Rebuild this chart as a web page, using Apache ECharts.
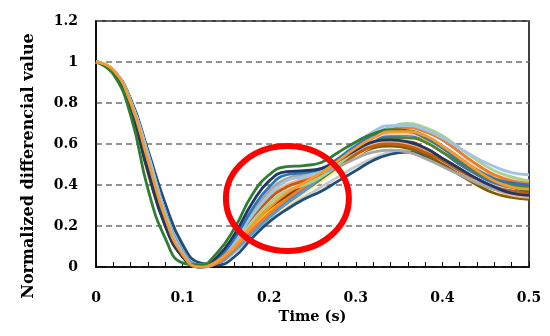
<!DOCTYPE html>
<html>
<head>
<meta charset="utf-8">
<script src="https://cdn.jsdelivr.net/npm/echarts@6/dist/echarts.min.js"></script>
<style>html,body{margin:0;padding:0;background:#fff}#c{width:550px;height:336px}</style>
</head>
<body>
<div id="c"></div>
<script>
const times = [0,0.02,0.04,0.06,0.08,0.10,0.12,0.14,0.16,0.18,0.20,0.22,0.24,0.26,0.28,0.30,0.32,0.34,0.36,0.38,0.40,0.42,0.44,0.46,0.48,0.50];
const xTicks = [0,0.1,0.2,0.3,0.4,0.5];
const yTicks = [0,0.2,0.4,0.6,0.8,1,1.2];
const yTitle = 'Normalized differencial value';
const xTitle = 'Time (s)';

const s01 = [1,0.96,0.81,0.56,0.29,0.09,0.01,0.02,0.07,0.15,0.23,0.29,0.34,0.39,0.44,0.49,0.53,0.56,0.57,0.55,0.51,0.47,0.43,0.40,0.38,0.37];
const s02 = [1,0.96,0.82,0.57,0.31,0.11,0.02,0.01,0.05,0.14,0.22,0.28,0.33,0.37,0.42,0.47,0.52,0.55,0.56,0.54,0.50,0.45,0.41,0.38,0.36,0.35];
const s03 = [1,0.95,0.79,0.51,0.23,0.06,0.00,0.03,0.10,0.20,0.28,0.34,0.39,0.44,0.49,0.54,0.58,0.59,0.58,0.55,0.50,0.45,0.40,0.36,0.34,0.33];
const s04 = [1,0.96,0.80,0.54,0.26,0.07,0.00,0.03,0.10,0.19,0.27,0.33,0.38,0.43,0.49,0.55,0.60,0.63,0.64,0.62,0.58,0.53,0.48,0.44,0.41,0.40];
const s05 = [1,0.96,0.80,0.54,0.26,0.08,0.00,0.02,0.08,0.17,0.25,0.32,0.38,0.44,0.50,0.56,0.61,0.64,0.64,0.61,0.56,0.50,0.45,0.41,0.39,0.38];
const s06 = [1,0.96,0.81,0.55,0.27,0.08,0.01,0.02,0.08,0.16,0.24,0.30,0.36,0.42,0.48,0.54,0.59,0.62,0.63,0.61,0.57,0.52,0.47,0.43,0.40,0.39];
const s07 = [1,0.96,0.80,0.53,0.25,0.07,0.01,0.02,0.09,0.17,0.25,0.31,0.37,0.43,0.49,0.55,0.60,0.63,0.63,0.61,0.56,0.51,0.46,0.42,0.40,0.39];
const s08 = [1,0.95,0.77,0.46,0.20,0.05,0.00,0.03,0.11,0.21,0.29,0.35,0.40,0.45,0.50,0.55,0.59,0.61,0.61,0.58,0.53,0.48,0.43,0.39,0.37,0.36];
const s09 = [1,0.96,0.81,0.55,0.27,0.08,0.01,0.02,0.08,0.16,0.24,0.31,0.37,0.44,0.51,0.58,0.64,0.68,0.69,0.67,0.62,0.56,0.49,0.43,0.39,0.37];
const s10 = [1,0.96,0.80,0.53,0.24,0.06,0.00,0.03,0.11,0.22,0.31,0.38,0.42,0.47,0.52,0.58,0.63,0.65,0.65,0.63,0.59,0.54,0.49,0.45,0.43,0.42];
const s11 = [1,0.96,0.80,0.53,0.25,0.07,0.00,0.02,0.09,0.18,0.26,0.33,0.39,0.45,0.51,0.57,0.63,0.67,0.68,0.66,0.62,0.56,0.50,0.45,0.42,0.41];
const s12 = [1,0.95,0.79,0.51,0.23,0.06,0.00,0.04,0.12,0.24,0.34,0.40,0.43,0.46,0.51,0.56,0.60,0.61,0.60,0.57,0.52,0.47,0.42,0.38,0.35,0.34];
const s13 = [1,0.95,0.78,0.50,0.22,0.06,0.00,0.03,0.11,0.23,0.33,0.39,0.42,0.45,0.50,0.55,0.59,0.60,0.59,0.56,0.52,0.47,0.43,0.39,0.37,0.36];
const s14 = [1,0.96,0.80,0.53,0.24,0.06,0.00,0.03,0.11,0.22,0.31,0.37,0.40,0.44,0.50,0.57,0.63,0.68,0.70,0.68,0.64,0.58,0.52,0.47,0.44,0.42];
const s15 = [1,0.95,0.78,0.50,0.22,0.05,0.00,0.04,0.13,0.26,0.37,0.43,0.45,0.46,0.49,0.53,0.56,0.57,0.56,0.53,0.49,0.45,0.41,0.38,0.36,0.35];
const s16 = [1,0.96,0.81,0.55,0.26,0.07,0.00,0.03,0.12,0.25,0.35,0.42,0.44,0.47,0.53,0.60,0.66,0.69,0.69,0.67,0.63,0.58,0.53,0.49,0.46,0.45];
const s17 = [1,0.95,0.78,0.49,0.21,0.05,0.00,0.04,0.14,0.28,0.39,0.45,0.46,0.48,0.53,0.59,0.64,0.66,0.66,0.63,0.58,0.52,0.47,0.43,0.41,0.40];
const s18 = [1,0.95,0.77,0.47,0.20,0.05,0.00,0.05,0.16,0.31,0.42,0.465,0.47,0.48,0.52,0.57,0.61,0.62,0.61,0.58,0.53,0.48,0.43,0.39,0.36,0.35];
const s19 = [1,0.94,0.74,0.38,0.14,0.02,0.01,0.07,0.19,0.35,0.45,0.49,0.495,0.51,0.56,0.61,0.65,0.67,0.665,0.64,0.59,0.53,0.47,0.42,0.39,0.37];
const s20 = [1,0.96,0.80,0.52,0.24,0.06,0.00,0.03,0.10,0.20,0.29,0.36,0.41,0.46,0.52,0.58,0.63,0.66,0.66,0.64,0.59,0.53,0.47,0.42,0.39,0.38];

const seriesValues = [s01,s02,s03,s04,s05,s06,s07,s08,s09,s10,s11,s12,s13,s14,s15,s16,s17,s18,s19,s20];
const seriesColors = ['#C9C9C9','#1F4E79','#7F6000','#FFC000','#4472C4','#FFE699','#548235','#843C0C','#5B9BD5','#F8CBAD','#ED7D31','#F4B183','#C55A11','#A9D18E','#A5A5A5','#9DC3E6','#2E75B6','#203864','#2E7D32','#F79A2E'];

const ellipseCenter = [0.221, 0.334];
const ellipseHalf = [0.071, 0.256];

const chart = echarts.init(document.getElementById('c'), null, {renderer:'canvas'});
const font = 'DejaVu Serif';
const series = seriesValues.map((vals, k) => ({
  type:'line',
  data: times.map((t,i)=>[t, vals[i]]),
  smooth: 0.5,
  showSymbol:false,
  symbol:'none',
  lineStyle:{width:2.8, color:seriesColors[k]},
  itemStyle:{color:seriesColors[k]},
  z: 2 + k,
  silent:true,
  animation:false
}));

chart.setOption({
  animation:false,
  backgroundColor:'#fff',
  grid:{left:96, right:21, top:21, bottom:69, show:true, borderColor:'#000', borderWidth:1.5, backgroundColor:'transparent'},
  xAxis:{
    type:'value', min:0, max:0.5, interval:0.1,
    name:xTitle, nameLocation:'middle', nameGap:43,
    nameTextStyle:{fontFamily:font, fontWeight:'bold', fontSize:14.5, color:'#000'},
    axisLine:{show:true, lineStyle:{color:'#000', width:1.5}},
    axisTick:{show:true, inside:true, length:5, lineStyle:{color:'#000', width:1}},
    minorTick:{show:true, splitNumber:5, length:5, lineStyle:{color:'#000', width:1}},
    axisLabel:{fontFamily:font, fontWeight:'bold', fontSize:14, color:'#000', margin:24,
      formatter:v=>{const f=xTicks.find(x=>Math.abs(x-v)<1e-9); return f===undefined?'':String(f);}},
    splitLine:{show:false}
  },
  yAxis:{
    type:'value', min:0, max:1.2, interval:0.2,
    axisLine:{show:true, lineStyle:{color:'#000', width:1.5}},
    axisTick:{show:false},
    axisLabel:{fontFamily:font, fontWeight:'bold', fontSize:14, color:'#000', margin:18,
      formatter:v=>{const f=yTicks.find(x=>Math.abs(x-v)<1e-9); return f===undefined?'':String(f);}},
    splitLine:{show:true, lineStyle:{color:'#707070', width:1.5, type:[6,4]}}
  },
  series: series
});

function drawExtras(){
  const c = chart.convertToPixel({gridIndex:0}, ellipseCenter);
  const p = chart.convertToPixel({gridIndex:0}, [ellipseCenter[0]+ellipseHalf[0], ellipseCenter[1]+ellipseHalf[1]]);
  chart.setOption({graphic:[
    {
      type:'ellipse', z:100,
      shape:{cx:c[0], cy:c[1], rx:Math.abs(p[0]-c[0]), ry:Math.abs(p[1]-c[1])},
      style:{fill:'none', stroke:'#FF0000', lineWidth:6}
    },
    {
      type:'text', z:100, x:29, y:166, rotation:Math.PI/2,
      style:{text:yTitle, fontFamily:font, fontWeight:'bold', fontSize:16, fill:'#000', align:'center', verticalAlign:'middle'}
    }
  ]});
}
drawExtras();
</script>
</body>
</html>
